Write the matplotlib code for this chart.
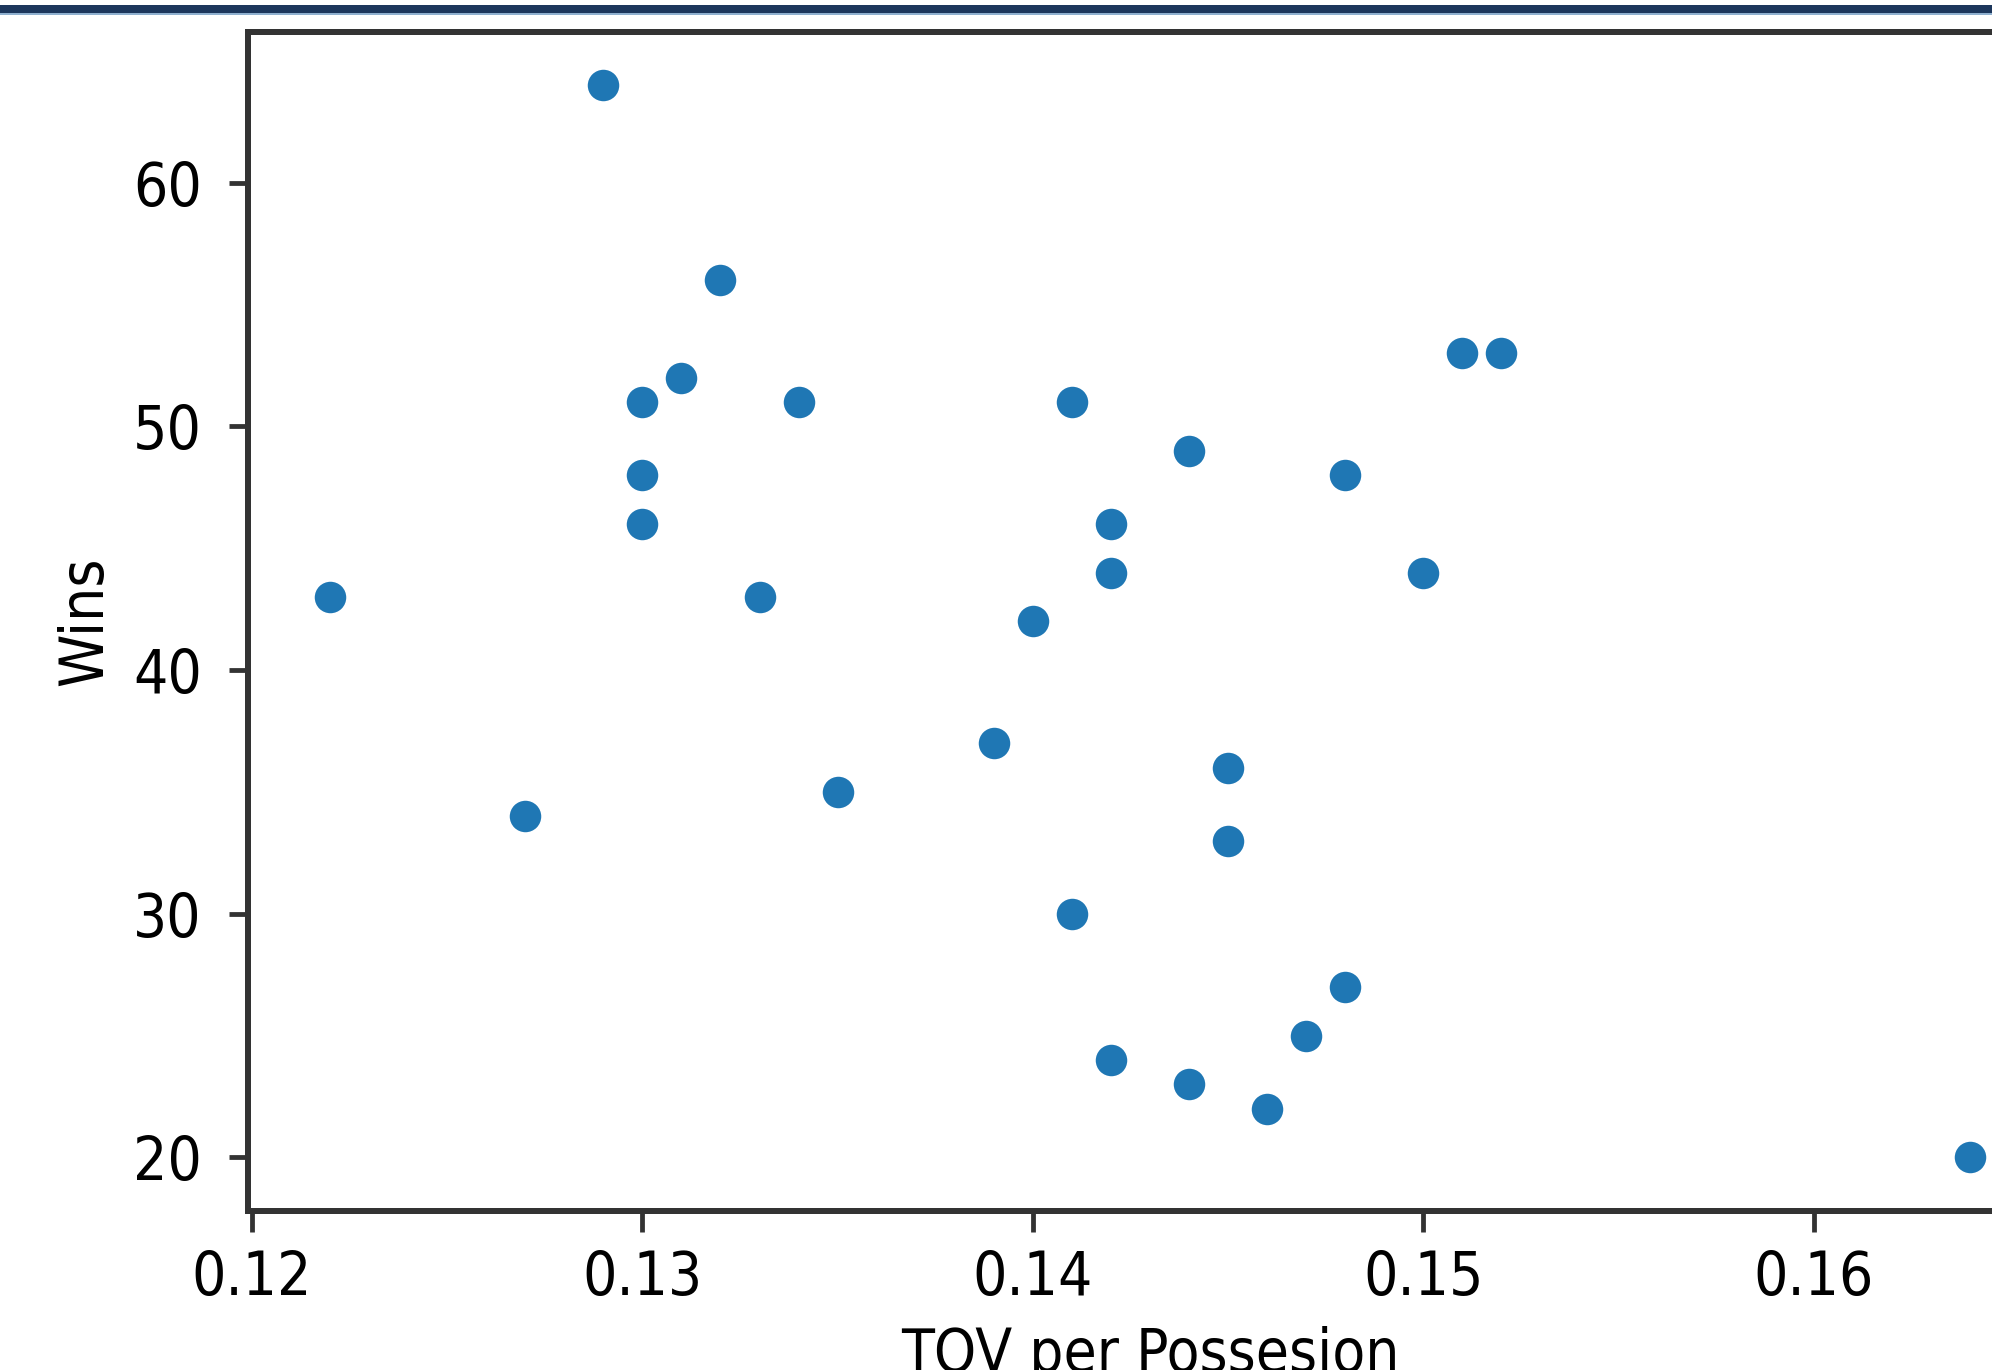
import matplotlib.pyplot as plt
from matplotlib.patches import Rectangle

# TOV per possession vs wins, one point per team
tov_per_poss = [0.129, 0.122, 0.127, 0.130, 0.130, 0.130, 0.131, 0.132, 0.133, 0.134,
                0.135, 0.139, 0.140, 0.141, 0.141, 0.142, 0.142, 0.142, 0.144, 0.144,
                0.145, 0.145, 0.146, 0.147, 0.148, 0.148, 0.150, 0.151, 0.152, 0.164]
wins = [64, 43, 34, 51, 48, 46, 52, 56, 43, 51,
        35, 37, 42, 51, 30, 46, 44, 24, 49, 23,
        36, 33, 22, 25, 48, 27, 44, 53, 53, 20]

scale = 4.32  # picture is a blown-up small notebook figure

fig = plt.figure(figsize=(19.92, 13.70), dpi=100)
# navy rule across the top
fig.add_artist(Rectangle((0, 1 - 14 / 1370), 1, 9 / 1370, transform=fig.transFigure,
                         color='#1d375c', lw=0))
fig.add_artist(Rectangle((0, 1 - 15 / 1370), 1, 2 / 1370, transform=fig.transFigure,
                         color='#8fb0cf', lw=0))

ax = fig.add_axes([248 / 1992, 0.116, 0.9056, 0.861])
ax.scatter(tov_per_poss, wins, s=36 * scale ** 2, color='#1f77b4',
           edgecolor='white', linewidth=0.75 * scale, zorder=3)

ax.set_xticks([0.12, 0.13, 0.14, 0.15, 0.16])
ax.set_xticklabels(['0.12', '0.13', '0.14', '0.15', '0.16'])
ax.set_yticks([20, 30, 40, 50, 60])

font = dict(family='DejaVu Sans', stretch='condensed', size=10 * scale)
ax.set_xlabel('TOV per Possesion', fontdict=font, labelpad=3 * scale)
ax.set_ylabel('Wins', fontdict=font, labelpad=3 * scale)
for lab in ax.get_xticklabels() + ax.get_yticklabels():
    lab.set_fontfamily('DejaVu Sans')
    lab.set_fontstretch('condensed')
    lab.set_fontsize(10 * scale)

ax.tick_params(axis='x', length=3.5 * scale, width=0.8 * scale, pad=2.8 * scale, color='#333333')
ax.tick_params(axis='y', length=3.2 * scale, width=0.8 * scale, pad=4.5 * scale, color='#333333')
for sp in ax.spines.values():
    sp.set_linewidth(1.0 * scale)
    sp.set_color('#333333')

fig.savefig('out.png', dpi=100)
